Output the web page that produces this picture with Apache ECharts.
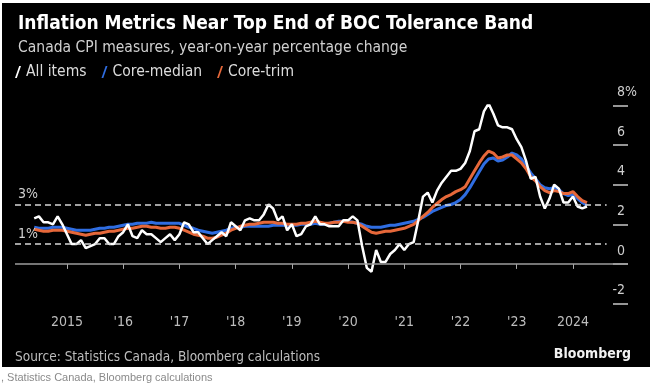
<!DOCTYPE html>
<html>
<head>
<meta charset="utf-8">
<script src="https://cdn.jsdelivr.net/npm/echarts@6/dist/echarts.min.js"></script>
<style>
html, body { margin: 0; padding: 0; background: #fff; }
#chart { width: 650px; height: 387px; }
</style>
</head>
<body>
<div id="chart"></div>
<script>
// monthly readings, May 2014 .. Mar 2024 (plotted at month end)
var startYear = 2014, startMonth = 5;

var allItems = [
  2.3, 2.4, 2.1, 2.1, 2.0, 2.4, 2.0, 1.5,
  1.0, 1.0, 1.2, 0.8, 0.9, 1.0, 1.3, 1.3, 1.0, 1.0, 1.4, 1.6,
  2.0, 1.4, 1.3, 1.7, 1.5, 1.5, 1.3, 1.1, 1.3, 1.5, 1.2, 1.5,
  2.1, 2.0, 1.6, 1.6, 1.3, 1.0, 1.2, 1.4, 1.6, 1.4, 2.1, 1.9,
  1.7, 2.2, 2.3, 2.2, 2.2, 2.5, 3.0, 2.8, 2.2, 2.4, 1.7, 2.0,
  1.4, 1.5, 1.9, 2.0, 2.4, 2.0, 2.0, 1.9, 1.9, 1.9, 2.2, 2.2,
  2.4, 2.2, 0.9, -0.2, -0.4, 0.7, 0.1, 0.1, 0.5, 0.7, 1.0, 0.7,
  1.0, 1.1, 2.2, 3.4, 3.6, 3.1, 3.7, 4.1, 4.4, 4.7, 4.7, 4.8,
  5.1, 5.7, 6.7, 6.8, 7.7, 8.1, 7.6, 7.0, 6.9, 6.9, 6.8, 6.3,
  5.9, 5.2, 4.3, 4.4, 3.4, 2.8, 3.3, 4.0, 3.8, 3.1, 3.1, 3.4,
  2.9, 2.8, 2.9
];

var coreMedian = [
  1.85, 1.8, 1.8, 1.8, 1.85, 1.85, 1.85, 1.8,
  1.75, 1.7, 1.7, 1.7, 1.7, 1.75, 1.8, 1.8, 1.85, 1.85, 1.9, 1.95,
  2.0, 2.0, 2.05, 2.05, 2.05, 2.1, 2.05, 2.05, 2.05, 2.05, 2.05, 2.05,
  1.95, 1.85, 1.8, 1.7, 1.65, 1.6, 1.55, 1.6, 1.65, 1.7, 1.8, 1.85,
  1.85, 1.9, 1.9, 1.9, 1.9, 1.9, 1.9, 1.95, 1.95, 1.95, 1.95, 1.95,
  1.95, 2.0, 2.0, 2.0, 2.05, 2.0, 2.0, 2.05, 2.1, 2.15, 2.15, 2.15,
  2.1, 2.05, 2.0, 1.9, 1.85, 1.85, 1.85, 1.9, 1.95, 1.95, 2.0, 2.05,
  2.1, 2.15, 2.25, 2.35, 2.5, 2.65, 2.75, 2.85, 2.95, 3.0, 3.1, 3.25,
  3.5, 3.85, 4.25, 4.65, 5.05, 5.3, 5.35, 5.2, 5.25, 5.4, 5.6, 5.5,
  5.3, 4.95, 4.6, 4.3, 4.0, 3.85, 3.8, 3.85, 3.75, 3.55, 3.45, 3.5,
  3.3, 3.1, 2.95
];

var coreTrim = [
  1.75, 1.7, 1.65, 1.65, 1.7, 1.7, 1.7, 1.65,
  1.6, 1.55, 1.5, 1.45, 1.5, 1.55, 1.55, 1.6, 1.65, 1.65, 1.7, 1.75,
  1.8, 1.8, 1.85, 1.9, 1.9, 1.85, 1.85, 1.8, 1.8, 1.85, 1.85, 1.8,
  1.7, 1.6, 1.5, 1.45, 1.4, 1.3, 1.3, 1.35, 1.45, 1.55, 1.7, 1.8,
  1.9, 1.95, 2.0, 2.0, 2.05, 2.1, 2.1, 2.1, 2.05, 2.05, 2.0, 2.0,
  2.0, 2.05, 2.05, 2.1, 2.15, 2.1, 2.05, 2.05, 2.1, 2.1, 2.15, 2.1,
  2.1, 2.05, 1.9, 1.75, 1.6, 1.55, 1.6, 1.65, 1.65, 1.7, 1.75, 1.8,
  1.9, 2.0, 2.2, 2.4, 2.6, 2.85, 3.05, 3.25, 3.4, 3.5, 3.65, 3.75,
  3.9, 4.3, 4.7, 5.1, 5.45, 5.7, 5.6, 5.35, 5.4, 5.5, 5.5, 5.3,
  5.1, 4.8, 4.4, 4.2, 3.9, 3.7, 3.6, 3.7, 3.65, 3.55, 3.55, 3.65,
  3.4, 3.2, 3.1
];

var yearTicks = [2015, 2016, 2017, 2018, 2019, 2020, 2021, 2022, 2023, 2024];
var bandLevels = [3, 1];   // BOC tolerance band edges
var xMin = 2014.075, xMax = 2024.98, bandEnd = 2024.6;

var FONT = "'DejaVu Sans Condensed', 'DejaVu Sans', sans-serif";

function toPairs(values) {
  return values.map(function (v, i) {
    return [startYear + (startMonth + i) / 12, v];
  });
}

var bandLines = bandLevels.map(function (lv) {
  return [
    { coord: [xMin, lv], label: { formatter: lv + '%' } },
    { coord: [bandEnd, lv] }
  ];
});

var option = {
  backgroundColor: '#ffffff',
  animation: false,
  textStyle: { fontFamily: FONT },
  graphic: [
    { type: 'rect', z: -10, shape: { x: 2, y: 3, width: 648, height: 364 }, style: { fill: '#000' } },
    { type: 'text', left: 15, top: 350, style: { text: 'Source: Statistics Canada, Bloomberg calculations', fill: '#bdbdbd', font: '13.5px ' + FONT } },
    { type: 'text', right: 19, top: 347, style: { text: 'Bloomberg', fill: '#f2f2f2', font: 'bold 14px ' + FONT } },
    { type: 'text', left: 1, top: 372, style: { text: ', Statistics Canada, Bloomberg calculations', fill: '#8a8a8a', font: '11px "Liberation Sans", Arial, sans-serif' } }
  ],
  title: {
    text: 'Inflation Metrics Near Top End of BOC Tolerance Band',
    subtext: 'Canada CPI measures, year-on-year percentage change',
    left: 13,
    top: 10,
    itemGap: 6,
    textStyle: { color: '#ffffff', fontSize: 19, fontWeight: 'bold', fontFamily: FONT },
    subtextStyle: { color: '#d0d0d0', fontSize: 15.5, fontFamily: FONT }
  },
  legend: {
    data: ['All items', 'Core-median', 'Core-trim'],
    left: 15,
    top: 64,
    padding: 0,
    icon: 'path://M0,12 L1.8,12 L6,0 L4.2,0 Z',
    itemWidth: 6,
    itemHeight: 12,
    itemGap: 15,
    textStyle: { color: '#dcdcdc', fontSize: 15.5, fontFamily: FONT }
  },
  grid: { left: 15, right: 22, top: 105.5, bottom: 83.5 },
  xAxis: {
    type: 'value',
    min: xMin,
    max: xMax,
    axisLine: { show: false },
    splitLine: { show: false },
    axisTick: { show: true, length: 5, customValues: yearTicks, lineStyle: { color: '#aaa' } },
    axisLabel: {
      customValues: yearTicks,
      margin: 12,
      color: '#bdbdbd',
      fontSize: 14,
      fontFamily: FONT,
      formatter: function (v) {
        return (v === 2015 || v === 2024) ? String(v) : "'" + String(v).slice(2);
      }
    }
  },
  yAxis: {
    type: 'value',
    position: 'right',
    min: -2,
    max: 8,
    interval: 2,
    axisLine: { show: false },
    splitLine: { show: false },
    axisTick: { show: true, inside: true, length: 15, lineStyle: { color: '#c8c8c8', width: 1.5 } },
    axisLabel: {
      margin: 9,
      align: 'right',
      verticalAlign: 'bottom',
      padding: [0, 0, 6, 0],
      color: '#cfcfcf',
      fontSize: 14,
      fontFamily: FONT,
      formatter: function (v) {
        return v + (v === 8 ? '{p|%}' : '{h|%}');
      },
      rich: {
        p: { color: '#cfcfcf', fontSize: 14, fontFamily: FONT },
        h: { color: 'rgba(0,0,0,0)', fontSize: 14, fontFamily: FONT }
      }
    }
  },
  series: [
    {
      name: 'Core-median',
      type: 'line',
      data: toPairs(coreMedian),
      showSymbol: false,
      color: '#2f6de1',
      lineStyle: { width: 3 }
    },
    {
      name: 'Core-trim',
      type: 'line',
      data: toPairs(coreTrim),
      showSymbol: false,
      color: '#e6683a',
      lineStyle: { width: 3 }
    },
    {
      name: 'All items',
      type: 'line',
      data: toPairs(allItems),
      showSymbol: false,
      color: '#ffffff',
      lineStyle: { width: 2.5 },
      markLine: {
        silent: true,
        symbol: ['none', 'none'],
        lineStyle: { type: [6, 4], color: '#d8d8d8', width: 1.5 },
        label: { position: 'insideStartTop', distance: 3, color: '#cfcfcf', fontSize: 14, fontFamily: FONT },
        data: [
          { yAxis: 0, lineStyle: { type: 'solid', color: '#9d9d9d', width: 1.5 }, label: { show: false } }
        ].concat(bandLines)
      }
    }
  ]
};

var myChart = echarts.init(document.getElementById('chart'));
myChart.setOption(option);
</script>
</body>
</html>
